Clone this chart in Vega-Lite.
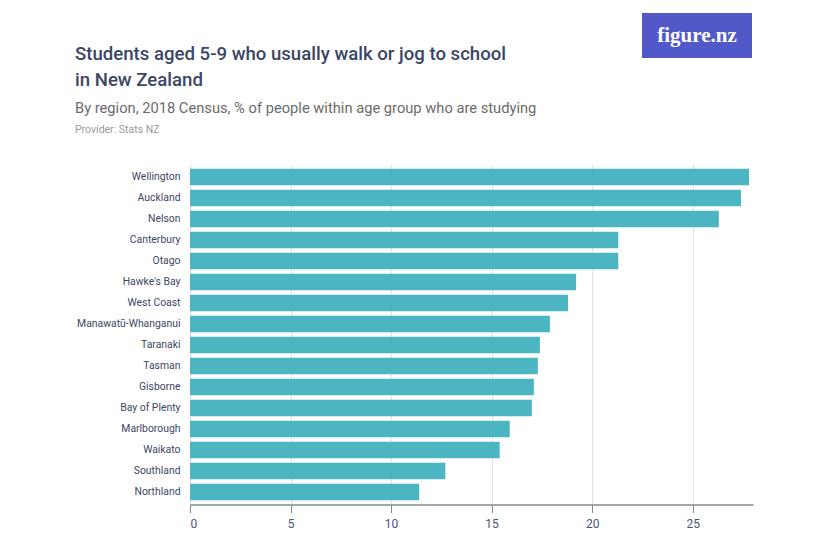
{
  "$schema": "https://vega.github.io/schema/vega-lite/v6.json",
  "background": "white",
  "padding": {"left": 75, "top": 13, "right": 85, "bottom": 10},
  "config": {
    "font": "Roboto",
    "view": {"stroke": null}
  },
  "spacing": 8.5,
  "vconcat": [
    {
      "spacing": 17,
      "hconcat": [
        {
          "width": 435,
          "height": 31.5,
          "data": {"values": []},
          "mark": "text",
          "title": {
            "text": ["Students aged 5-9 who usually walk or jog to school", "in New Zealand"],
            "subtitle": "By region, 2018 Census, % of people within age group who are studying",
            "orient": "bottom",
            "anchor": "start",
            "frame": "group",
            "offset": 0,
            "dx": -115,
            "font": "Roboto",
            "fontSize": 18.6,
            "fontWeight": 500,
            "lineHeight": 26.7,
            "color": "#3b4664",
            "subtitleFont": "Roboto",
            "subtitleFontSize": 14.7,
            "subtitleColor": "#6b6b6b",
            "subtitlePadding": 11.5
          }
        },
        {
          "width": 110,
          "height": 45,
          "view": {"fill": "#5159c9", "stroke": null},
          "data": {"values": [{"brand": "figure.nz"}]},
          "mark": {"type": "text", "font": "Liberation Serif", "fontWeight": "bold", "fontSize": 21, "color": "white"},
          "encoding": {"text": {"field": "brand"}}
        }
      ]
    },
    {
      "width": 563,
      "height": 340,
      "title": {
        "text": "Provider: Stats NZ",
        "anchor": "start",
        "frame": "bounds",
        "orient": "top",
        "font": "Roboto",
        "fontSize": 10.5,
        "fontWeight": "normal",
        "color": "#9a9a9a",
        "offset": 29.5
      },
      "data": {
        "values": [
          {"region": "Wellington", "pct": 27.8},
          {"region": "Auckland", "pct": 27.4},
          {"region": "Nelson", "pct": 26.3},
          {"region": "Canterbury", "pct": 21.3},
          {"region": "Otago", "pct": 21.3},
          {"region": "Hawke's Bay", "pct": 19.2},
          {"region": "West Coast", "pct": 18.8},
          {"region": "Manawatū-Whanganui", "pct": 17.9},
          {"region": "Taranaki", "pct": 17.4},
          {"region": "Tasman", "pct": 17.3},
          {"region": "Gisborne", "pct": 17.1},
          {"region": "Bay of Plenty", "pct": 17.0},
          {"region": "Marlborough", "pct": 15.9},
          {"region": "Waikato", "pct": 15.4},
          {"region": "Southland", "pct": 12.7},
          {"region": "Northland", "pct": 11.4}
        ]
      },
      "mark": {"type": "bar", "color": "#4bb5c2"},
      "encoding": {
        "y": {
          "field": "region",
          "type": "nominal",
          "sort": null,
          "scale": {"paddingInner": 0.21, "paddingOuter": 0.2},
          "axis": {
            "title": null,
            "ticks": false,
            "domain": false,
            "labelPadding": 10,
            "labelFont": "Roboto",
            "labelFontSize": 10.4,
            "labelColor": "#3b4664",
            "labelLimit": 200,
            "minExtent": 115
          }
        },
        "x": {
          "field": "pct",
          "type": "quantitative",
          "scale": {"domain": [0, 28], "nice": false},
          "axis": {
            "title": null,
            "values": [0, 5, 10, 15, 20, 25],
            "grid": true,
            "gridColor": "#e2e2e2",
            "domainColor": "#8a8a8a",
            "domainWidth": 1.5,
            "tickColor": "#8a8a8a",
            "tickSize": 8,
            "labelFont": "Roboto",
            "labelFontSize": 12,
            "labelColor": "#4a5578",
            "labelPadding": 6
          }
        }
      }
    }
  ]
}
